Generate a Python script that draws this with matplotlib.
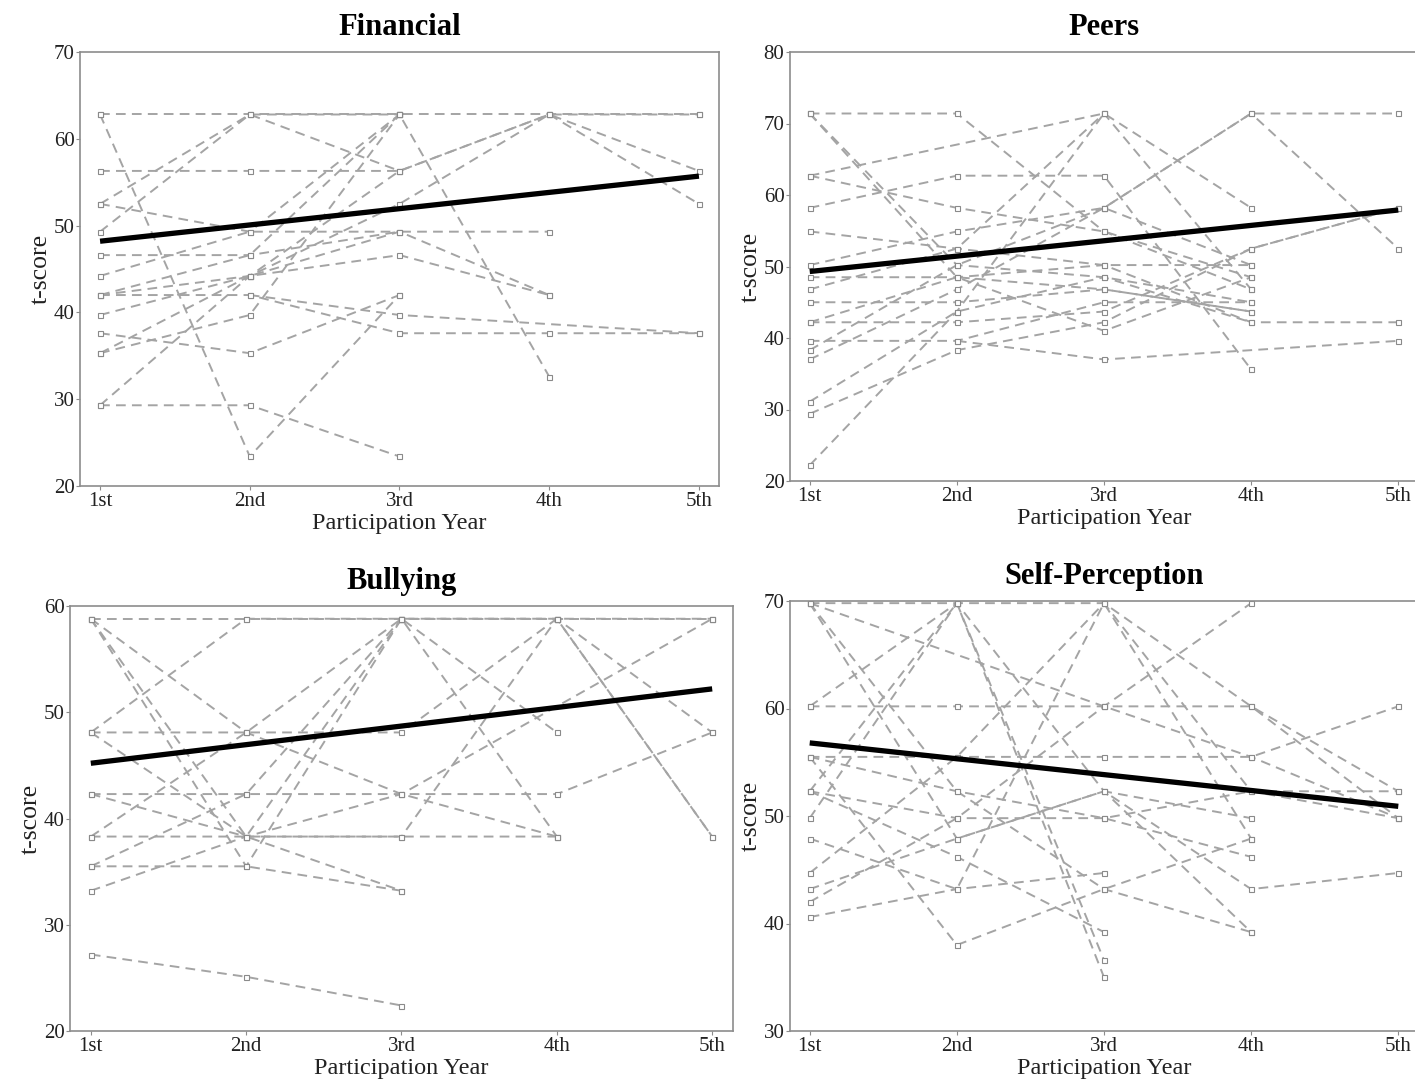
import matplotlib
matplotlib.use("Agg")
import matplotlib.pyplot as plt
import numpy as np

plt.rcParams["font.family"] = ["Liberation Serif", "DejaVu Serif"]

YEARS = ["1st", "2nd", "3rd", "4th", "5th"]

# ---- data: one list per participant (None = no observation) ----
fin = [
    [62.8, 62.8, 62.8, 62.8, 62.8],
    [62.8, 23.4, 42.0],
    [56.3, 56.3, 56.3, 62.8, 56.3],
    [52.5, 62.8, 56.3, 62.8, 52.5],
    [52.5, 49.3, 62.8],
    [49.3, 62.8, 62.8],
    [46.6, 46.6, 49.3, 49.3],
    [44.2, 49.3, 49.3],
    [42.0, 46.6, 62.8, 32.6],
    [42.0, 44.2, 52.5, 62.8, 62.8],
    [42.0, 42.0, 37.6, 37.6, 37.6],
    [39.7, 44.2, 49.3, 42.0],
    [37.6, 35.3, 42.0],
    [35.3, 39.7, 62.8],
    [35.3, 44.2, 46.6, 42.0],
    [None, 42.0, 39.7, None, 37.6],
    [29.3, 29.3, 23.4],
    [29.3, 44.2, 56.3],
]
fin_trend = [48.2, 55.7]

peer = [
    [71.4, 71.4, 54.9, 46.8],
    [71.4, 50.2, 48.5, 45.0],
    [71.4, 48.5, 46.8, 43.7],
    [62.7, None, 71.4, 58.2],
    [62.7, 58.2, 54.9, 48.5],
    [58.2, 62.7, 62.7, 35.6],
    [54.9, 52.5, 50.2, 50.2],
    [50.2, 54.9, 58.2, 71.4, 71.4],
    [48.5, 48.5, 50.2, 42.2, 42.2],
    [46.8, 52.5, 71.4, 46.8],
    [45.0, 45.0, 46.8, 43.7],
    [42.2, 42.2, 43.7, 52.5, 58.2],
    [42.2, 48.5, 41.0, 48.5],
    [39.6, 39.6, 45.0, 45.0],
    [38.3, 50.2, 58.2, 71.4, 52.5],
    [37.0, 46.8, 58.2, 50.2],
    [31.1, 43.7, 48.5, 42.2],
    [29.4, 38.3, 42.2, 52.5, 58.2],
    [22.2, 43.7, 71.4],
    [None, 39.6, 37.0, None, 39.6],
]
peer_trend = [49.3, 57.9]

bully = [
    [58.8, 58.8, 58.8, 58.8, 58.8],
    [58.8, 48.1, 42.3, 38.3],
    [58.8, 38.3, 58.8, 58.8, 48.1],
    [58.8, 35.5, 58.8, 38.3],
    [48.1, 48.1, 48.1, 58.8, 38.3],
    [48.1, 58.8, 58.8, 48.1],
    [48.1, 38.3, 33.2],
    [42.3, 42.3, 42.3, 42.3, 48.1],
    [42.3, 38.3, 38.3, 38.3],
    [38.3, 48.1, 58.8, 58.8, 58.8],
    [38.3, 38.3, 38.3, 58.8, 38.3],
    [35.5, 35.5, 33.2],
    [35.5, 42.3, 58.8],
    [33.2, 38.3, 42.3, None, 58.8],
    [27.2, 25.1, 22.4],
]
bully_trend = [45.2, 52.2]

selfp = [
    [69.8, 69.8, 69.8, 60.2, 52.3],
    [69.8, None, 60.2, 55.5, 49.8],
    [69.8, 52.3, 43.2, 39.2],
    [60.2, 69.8, 52.3, 39.2],
    [60.2, 60.2, 60.2, 60.2, 49.8],
    [55.5, 55.5, 55.5, 55.5, 60.2],
    [55.5, 52.3, 49.8, 46.2],
    [52.3, 69.8, 36.6],
    [52.3, 49.8, 49.8, 52.3, 52.3],
    [49.8, 69.8, 35.0],
    [47.9, 43.2, 69.8, 47.9],
    [44.7, 55.5, 69.8, 52.3, 49.8],
    [43.2, 47.9, 52.3, 43.2, 44.7],
    [42.0, 49.8, 60.2, 69.8],
    [40.6, 43.2, 44.7],
    [55.5, 38.0, 43.2, 47.9],
    [52.3, 46.2, 39.2],
    [69.8, 47.9, 52.3, 49.8],
]
self_trend = [56.8, 50.9]

PANELS = [
    # title, data, trend, ylim, yticks, [left, top, width, height] in px
    ("Financial", fin, fin_trend, (20, 70), [20, 30, 40, 50, 60, 70], (80, 52, 639, 434)),
    ("Peers", peer, peer_trend, (20, 80), [20, 30, 40, 50, 60, 70, 80], (790, 52, 628, 429)),
    ("Bullying", bully, bully_trend, (20, 60), [20, 30, 40, 50, 60], (70, 606, 663, 425)),
    ("Self-Perception", selfp, self_trend, (30, 70), [30, 40, 50, 60, 70], (790, 601, 628, 430)),
]

W, H = 1415, 1082
fig = plt.figure(figsize=(W / 100, H / 100), dpi=100, facecolor="white")

FRAME = "#8c8c8c"
LINE = "#a4a4a4"

for title, data, trend, ylim, yticks, (l, t, w, h) in PANELS:
    ax = fig.add_axes([l / W, 1 - (t + h) / H, w / W, h / H])
    x_all = np.arange(1, 6)
    for traj in data:
        xs = [x for x, v in zip(x_all, traj) if v is not None]
        ys = [v for v in traj if v is not None]
        ax.plot(xs, ys, color=LINE, lw=1.4, linestyle=(0, (5, 3.2)),
                marker="s", ms=3.6, mfc="white", mec="#8a8a8a", mew=0.8, zorder=2)
    ax.plot([1, 5], trend, color="black", lw=3.8, solid_capstyle="butt", zorder=5)

    # margins so 1st/5th sit ~20px inside the frame
    ax.set_xlim(1 - 0.134, 5 + 0.134)
    ax.set_ylim(*ylim)
    ax.set_xticks(x_all)
    ax.set_xticklabels(YEARS)
    ax.set_yticks(yticks)
    ax.tick_params(direction="out", length=3, width=0.8, color=FRAME,
                   labelsize=15, pad=1, labelcolor="#222222")
    for sp in ax.spines.values():
        sp.set_edgecolor(FRAME)
        sp.set_linewidth(1.2)
    ax.set_title(title, fontsize=22, fontweight="bold", pad=12)
    ax.set_xlabel("Participation Year", fontsize=17.5, labelpad=2, color="#222222")
    ax.set_ylabel("t-score", fontsize=18.5, labelpad=1, color="#222222")

fig.savefig("out.png", dpi=100, facecolor="white")
